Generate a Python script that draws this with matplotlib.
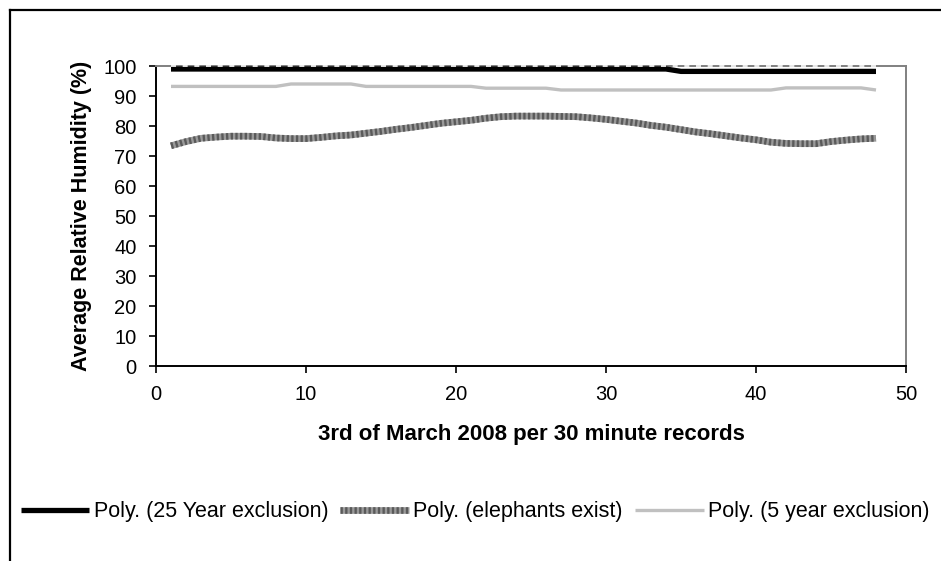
import matplotlib
matplotlib.use("Agg")
import matplotlib.pyplot as plt
from matplotlib.lines import Line2D
import numpy as np

plt.rcParams['font.family'] = ['Liberation Sans', 'DejaVu Sans']

# half-hour record index, 3 March 2008
records = np.arange(1, 49)

# polynomial trend lines of average relative humidity (%)
rh_25yr = [99.0] * 34 + [98.2] * 14
rh_elephants = [73.4, 74.8, 75.9, 76.3, 76.6, 76.6, 76.5, 76.0, 75.8, 75.8,
                76.2, 76.7, 77.0, 77.6, 78.2, 78.9, 79.5, 80.2, 80.9, 81.4,
                81.9, 82.6, 83.1, 83.3, 83.3, 83.3, 83.2, 83.1, 82.7, 82.2,
                81.6, 81.0, 80.2, 79.6, 78.8, 78.0, 77.4, 76.7, 76.0, 75.4,
                74.6, 74.2, 74.1, 74.1, 74.8, 75.3, 75.7, 75.9]
rh_5yr = ([93.2] * 8 + [94.0] * 5 + [93.2] * 8 + [92.6] * 5 + [92.0] * 15
          + [92.7] * 6 + [92.0])
rh_top = [100.0] * 48

x_ticks = [0, 10, 20, 30, 40, 50]
y_ticks = list(range(0, 101, 10))

fig = plt.figure(figsize=(9.41, 5.61), dpi=100)
ax = fig.add_axes([156 / 941, 195 / 561, 750 / 941, 300 / 561])

# outer chart frame (top and left edges only)
fig.add_artist(Line2D([10 / 941, 1.0], [1 - 10 / 561, 1 - 10 / 561],
                      color='black', lw=1.6, transform=fig.transFigure))
fig.add_artist(Line2D([10 / 941, 10 / 941], [0.0, 1 - 10 / 561],
                      color='black', lw=1.6, transform=fig.transFigure))

ax.plot(records, rh_top, color='white', lw=1.2, ls=(0, (3, 4)), zorder=4,
        clip_on=False)
l25, = ax.plot(records, rh_25yr, color='black', lw=3.8, zorder=3,
               solid_capstyle='butt')
ele_base, = ax.plot(records, rh_elephants, color='#9a9a9a', lw=4.8, zorder=3,
                    solid_capstyle='butt')
ele_dots, = ax.plot(records, rh_elephants, color='#5a5a5a', lw=4.8, zorder=3,
                    ls=(0, (0.35, 0.35)), dash_capstyle='butt')
l5, = ax.plot(records, rh_5yr, color='#c0c0c0', lw=2.4, zorder=3,
              solid_capstyle='butt')

ax.set_xlim(0, 50)
ax.set_ylim(0, 100)
ax.set_xticks(x_ticks)
ax.set_yticks(y_ticks)
ax.tick_params(direction='out', length=5, width=1.2, labelsize=14.5,
               color='black')
ax.tick_params(axis='x', pad=9)
ax.tick_params(axis='y', pad=9)

for side in ['top', 'right']:
    ax.spines[side].set_color('#808080')
    ax.spines[side].set_linewidth(1.4)
for side in ['left', 'bottom']:
    ax.spines[side].set_color('black')
    ax.spines[side].set_linewidth(1.4)

ax.set_xlabel('3rd of March 2008 per 30 minute records', fontsize=16,
              fontweight='bold', labelpad=14)
ax.set_ylabel('Average Relative Humidity (%)', fontsize=15.5,
              fontweight='bold', labelpad=8)

fig.legend([l25, (ele_base, ele_dots), l5],
           ['Poly. (25 Year exclusion)', 'Poly. (elephants exist)',
            'Poly. (5 year exclusion)'],
           loc='center', bbox_to_anchor=(475 / 941, 1 - 512 / 561), ncol=3,
           frameon=False, fontsize=15.5, handlelength=3.2,
           handletextpad=0.2, columnspacing=0.55, borderaxespad=0,
           borderpad=0)

fig.savefig('out.png', dpi=100)
